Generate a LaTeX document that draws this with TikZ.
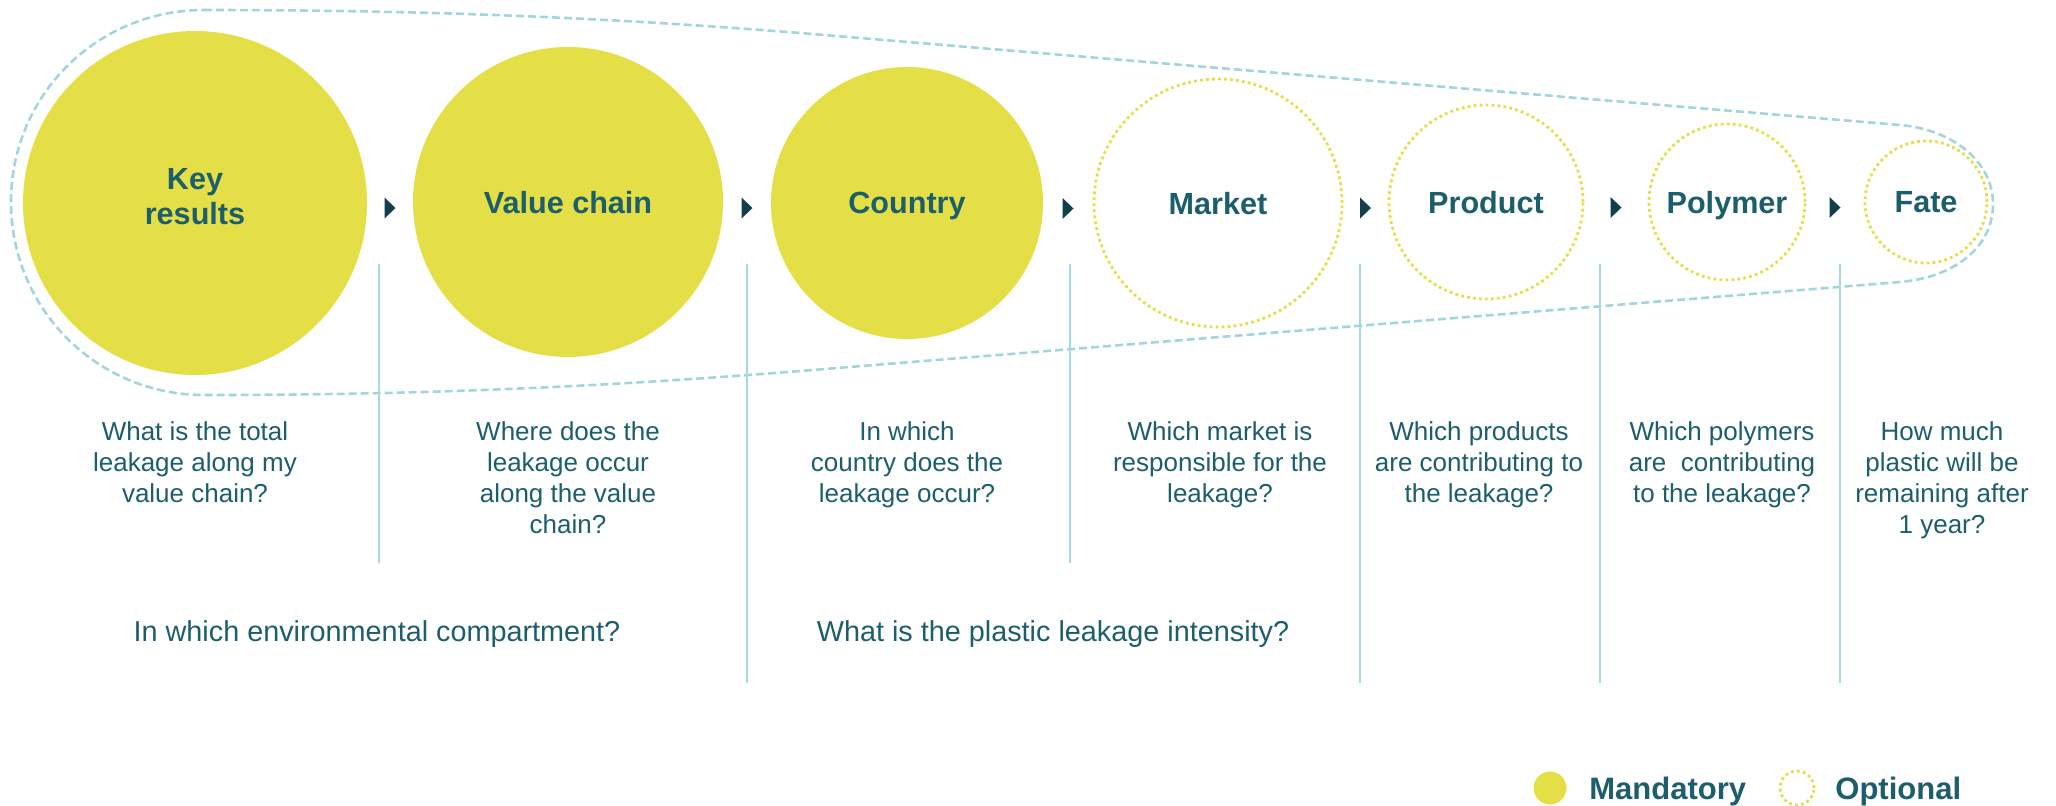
\documentclass[tikz,border=0pt]{standalone}
\usepackage{fontspec}
\setmainfont{Liberation Sans}
\usetikzlibrary{calc}

\definecolor{mandfill}{HTML}{E5DF47}
\definecolor{tealtext}{HTML}{1C5E6C}
\definecolor{tipcol}{HTML}{0F404B}
\definecolor{rulecol}{HTML}{A6DADE}
\definecolor{hullcol}{HTML}{A3D6DB}

\begin{document}
\begin{tikzpicture}[x=0.5pt, y=-0.5pt,
    every node/.style={text=tealtext, inner sep=0pt},
    stage/.style={circle, align=center, text depth=0pt,
      font=\fontsize{15.3}{17.5}\selectfont\bfseries},
    mand/.style={stage, fill=mandfill},
    opt/.style={stage, draw=mandfill, line width=1.4pt, dash pattern=on 1.4pt off 1.6pt},
    question/.style={align=center, anchor=north, font=\fontsize{13}{15.6}\selectfont},
    wide/.style={anchor=base, font=\fontsize{14.4}{17}\selectfont},
    legend/.style={anchor=base west, font=\fontsize{15.5}{18}\selectfont\bfseries},
    rule/.style={rulecol, line width=1pt},
    hull/.style={hullcol, line width=1.3pt, dash pattern=on 4pt off 2pt}]
  \useasboundingbox (0,0) rectangle (2056,805);

  % Dashed envelope round the mandatory part
  \draw[hull] (204,10) .. controls (420,10) and (600,17) .. (800,33)
    -- (1900,125) .. controls (1950,129) and (1993,160) .. (1993,204)
    .. controls (1993,250) and (1950,278) .. (1900,282)
    -- (800,371) .. controls (600,387) and (420,395) .. (204,395)
    .. controls (97,395) and (11,309) .. (11,202)
    .. controls (11,95) and (97,10) .. (204,10) -- cycle;

  % Stages
  \node[mand, minimum size=172pt, text depth=6.5pt] (key) at (195,203) {Key\\results};
  \node[mand, minimum size=155pt] (chain) at (568,202) {Value chain};
  \node[mand, minimum size=136pt] (country) at (907,203) {Country};
  \node[opt, minimum size=124pt] (market) at (1218,203) {Market};
  \node[opt, minimum size=97pt] (product) at (1486,202) {Product};
  \node[opt, minimum size=78pt] (polymer) at (1727,202) {Polymer};
  \node[opt, minimum size=61pt] (fate) at (1926,202) {Fate};

  % Small heads between stages
  \foreach \a/\b in {key/chain, chain/country, country/market,
                     market/product, product/polymer, polymer/fate}
    \fill[tipcol] ($(\a.east)!0.5!(\b.west)+(-5.5,-5)$) -- ++(11,10.5) -- ++(-11,10.5) -- cycle;

  % Separators
  \foreach \x/\e in {379/563, 747/683, 1070/563, 1360/683, 1600/683, 1840/683}
    \draw[rule] (\x,264) -- (\x,\e);

  % Questions
  \node[question] (q1) at (195,421) {What is the total\\leakage along my\\value chain?};
  \node[question] (q2) at (568,421) {Where does the\\leakage occur\\along the value\\chain?};
  \node[question] (q3) at (907,421) {In which\\country does the\\leakage occur?};
  \node[question] (q4) at (1220,421) {Which market is\\responsible for the\\leakage?};
  \node[question] (q5) at (1479,421) {Which products\\are contributing to\\the leakage?};
  \node[question] (q6) at (1722,421) {Which polymers\\are \ contributing\\to the leakage?};
  \node[question] (q7) at (1942,421) {How much\\plastic will be\\remaining after\\1 year?};

  \node[wide] (w1) at (377,641) {In which environmental compartment?};
  \node[wide] (w2) at (1053,641) {What is the plastic leakage intensity?};

  % Legend
  \node[circle, fill=mandfill, minimum size=16.5pt] (mkey) at (1550,788) {};
  \node[legend] (mtext) at (1589,799) {Mandatory};
  \node[circle, draw=mandfill, line width=1.4pt, dash pattern=on 1.4pt off 1.6pt,
        minimum size=17pt] (okey) at (1797,788) {};
  \node[legend] (otext) at (1835,799) {Optional};
\end{tikzpicture}
\end{document}
